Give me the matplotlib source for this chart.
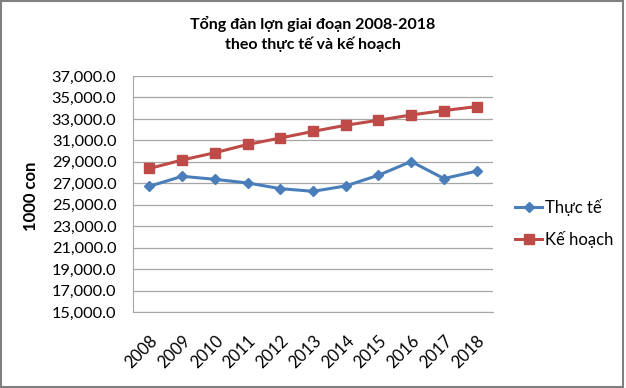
import numpy as np
from matplotlib import pyplot as plt
from matplotlib.patches import Rectangle

years = ['2008', '2009', '2010', '2011', '2012', '2013', '2014', '2015', '2016', '2017', '2018']
thuc_te = [26720, 27650, 27370, 27030, 26500, 26250, 26750, 27750, 29030, 27440, 28130]
ke_hoach = [28380, 29170, 29850, 30620, 31220, 31840, 32410, 32880, 33370, 33780, 34150]
yticks = list(range(15000, 37001, 2000))

plt.rcParams['font.family'] = ['Lato', 'DejaVu Sans']

fig = plt.figure(figsize=(6.26, 3.88), dpi=100)
ax = fig.add_axes([0.2125, 0.196, 0.575, 0.608])

x = np.arange(len(years))
ax.plot(x, thuc_te, color='#4a7ebb', lw=2.2, marker='D', ms=5.5, label='Thực tế')
ax.plot(x, ke_hoach, color='#be4b48', lw=2.2, marker='s', ms=7, label='Kế hoạch')

ax.set_xlim(-0.5, len(years) - 0.5)
ax.set_ylim(15000, 37000)
ax.set_yticks(yticks)
ax.set_yticklabels([f'{v:,.1f}' for v in yticks], fontsize=11.8)
ax.set_xticks(x)
ax.set_xticklabels(years, rotation=45, ha='right', rotation_mode='anchor', fontsize=12)
ax.tick_params(axis='y', length=0, pad=12)
ax.tick_params(axis='x', length=0, pad=15)
ax.yaxis.grid(True, color='#a6a6a6', lw=0.9)
ax.set_axisbelow(True)
for s in ['top', 'right']:
    ax.spines[s].set_visible(False)
for s in ['left', 'bottom']:
    ax.spines[s].set_color('#a6a6a6')

ax.set_ylabel('1000 con', fontsize=12, fontweight='bold')
ax.yaxis.set_label_coords(-0.262, 0.49)
fig.text(0.5, 0.96, 'Tổng đàn lợn giai đoạn 2008-2018\ntheo thực tế và kế hoạch',
         ha='center', va='top', fontsize=11.5, fontweight='bold', linespacing=1.4)

ax.legend(loc='center left', bbox_to_anchor=(1.02, 0.377), frameon=False,
          fontsize=12, handlelength=1.6, labelspacing=0.9, handletextpad=0.2)

fig.patches.append(Rectangle((0.002, 0.003), 0.994, 0.994, transform=fig.transFigure,
                             fill=False, ec='#808080', lw=1.5))

fig.savefig('out.png', dpi=100)
